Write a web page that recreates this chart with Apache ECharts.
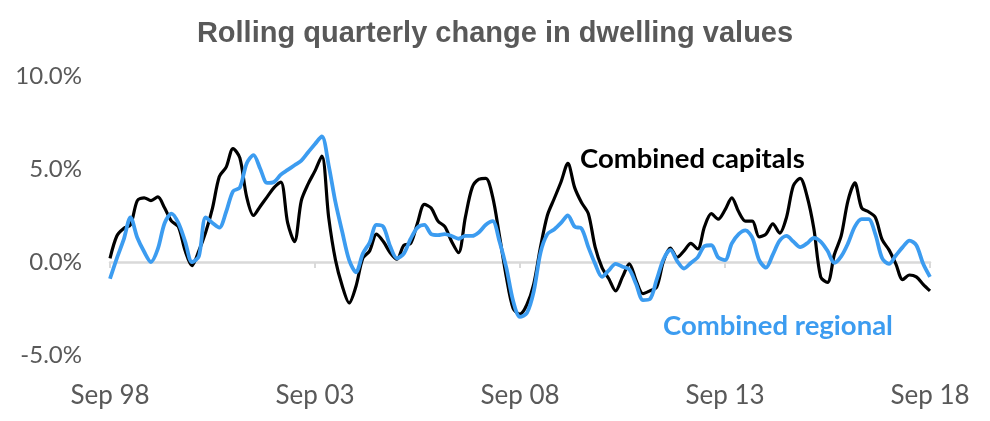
<!DOCTYPE html>
<html>
<head>
<meta charset="utf-8">
<script src="https://cdn.jsdelivr.net/npm/echarts@6/dist/echarts.min.js"></script>
<style>
html,body{margin:0;padding:0;background:#fff;}
#chart{width:990px;height:421px;}
</style>
</head>
<body>
<div id="chart"></div>
<script>
// Bimonthly samples from Sep 98 to Sep 18
const monthNames = ['Jan','Feb','Mar','Apr','May','Jun','Jul','Aug','Sep','Oct','Nov','Dec'];
const startYear = 1998, startMonth = 8, stepMonths = 2, nPoints = 121;
const categories = [];
for (let k = 0; k < nPoints; k++) {
  const m = startMonth + stepMonths * k;
  const y = startYear + Math.floor(m / 12);
  categories.push(monthNames[m % 12] + ' ' + String(y % 100).padStart(2, '0'));
}

const capitals = [
  0.2, 1.4, 1.8, 2.0, 3.3, 3.45, 3.3, 3.5, 2.9, 2.2,
  1.9, 0.6, -0.2, 0.6, 1.6, 2.9, 4.6, 5.1, 6.1, 5.6,
  3.5, 2.5, 3.0, 3.5, 4.0, 4.3, 2.1, 1.1, 3.3, 4.2,
  4.9, 5.7, 2.4, 0.1, -1.3, -2.2, -1.3, 0.2, 0.6, 1.5,
  1.1, 0.5, 0.15, 0.9, 1.0, 2.1, 3.1, 2.9, 2.2, 1.9,
  1.1, 0.5, 2.4, 4.0, 4.45, 4.5, 3.5, 1.4, -0.8, -2.5,
  -2.8, -2.3, -1.2, 0.8, 2.5, 3.4, 4.3, 5.3, 4.0, 3.2,
  2.6, 0.8, -0.3, -0.9, -1.55, -0.8, -0.1, -1.0, -1.7, -1.55,
  -1.35, 0.05, 0.75, 0.25, 0.6, 1.0, 0.7, 1.9, 2.6, 2.3,
  2.8, 3.45, 2.7, 2.2, 2.2, 1.35, 1.5, 2.05, 1.55, 2.4,
  4.1, 4.5, 3.55, 1.8, -0.8, -1.1, 0.4, 1.4, 3.3, 4.25,
  2.9, 2.7, 2.4, 1.2, 0.65, -0.1, -0.95, -0.7, -0.8, -1.2, -1.55
];

const regional = [
  -0.9, 0.2, 1.2, 2.4, 1.3, 0.55, 0.0, 0.7, 2.1, 2.6,
  2.1, 1.1, 0.0, 0.3, 2.4, 2.1, 1.85, 2.7, 3.8, 4.0,
  5.3, 5.75, 5.0, 4.25, 4.3, 4.7, 4.95, 5.2, 5.45, 5.9,
  6.35, 6.75, 5.2, 3.2, 1.6, 0.1, -0.55, 0.45, 1.05, 2.0,
  1.9, 0.85, 0.2, 0.45, 1.25, 1.85, 2.0, 1.5, 1.45, 1.5,
  1.4, 1.25, 1.4, 1.4, 1.6, 2.0, 2.2, 1.1, -0.3, -2.1,
  -2.95, -2.75, -1.6, 0.5, 1.5, 1.75, 2.1, 2.5, 1.9, 1.8,
  0.8, -0.1, -0.8, -0.45, -0.1, -0.25, -0.4, -1.2, -2.05, -2.0,
  -0.95, 0.15, 0.65, 0.05, -0.35, -0.05, 0.25, 0.85, 0.9, 0.25,
  0.1, 1.0, 1.5, 1.7, 1.3, 0.1, -0.3, 0.4, 1.15, 1.4,
  1.1, 0.8, 1.0, 1.3, 1.1, 0.6, -0.05, 0.3, 1.0, 1.9,
  2.3, 2.3, 1.5, 0.2, -0.1, 0.35, 0.8, 1.15, 0.9, -0.1, -0.8
];

const yTicks = { min: -5, max: 10, interval: 5 };
const labelEvery = 30; // Sep every 5 years

const chart = echarts.init(document.getElementById('chart'), null, { renderer: 'canvas' });
const labelFont = 'Lato, "Open Sans", sans-serif';

chart.setOption({
  animation: false,
  backgroundColor: '#ffffff',
  title: {
    text: 'Rolling quarterly change in dwelling values',
    left: 'center',
    top: 14,
    textStyle: {
      fontFamily: '"Liberation Sans", Arial, sans-serif',
      fontWeight: 'bold',
      fontSize: 29,
      color: '#595959'
    }
  },
  grid: { left: 110, right: 60, top: 76, bottom: 66, containLabel: false },
  xAxis: [
    {
      type: 'category',
      data: categories,
      boundaryGap: false,
      position: 'bottom',
      axisLine: { show: false, onZero: false },
      axisTick: { show: false },
      axisLabel: {
        interval: labelEvery - 1,
        margin: 28,
        fontFamily: labelFont,
        fontSize: 26,
        color: '#595959'
      },
      splitLine: { show: false }
    },
    {
      type: 'category',
      data: categories,
      boundaryGap: false,
      position: 'bottom',
      axisLine: { show: true, onZero: true, lineStyle: { color: '#d9d9d9', width: 2.5 } },
      axisTick: { show: true, interval: labelEvery - 1, length: 6, lineStyle: { color: '#d9d9d9', width: 2 } },
      axisLabel: { show: false },
      splitLine: { show: false }
    }
  ],
  yAxis: {
    type: 'value',
    min: yTicks.min,
    max: yTicks.max,
    interval: yTicks.interval,
    axisLine: { show: false },
    axisTick: { show: false },
    splitLine: { show: false },
    axisLabel: {
      margin: 28,
      fontFamily: labelFont,
      fontSize: 24,
      color: '#595959',
      formatter: v => v.toFixed(1) + '%'
    }
  },
  series: [
    {
      name: 'Combined capitals',
      type: 'line',
      data: capitals,
      xAxisIndex: 0,
      showSymbol: false,
      smooth: 0.3,
      lineStyle: { color: '#000000', width: 3.2 },
      z: 3
    },
    {
      name: 'Combined regional',
      type: 'line',
      data: regional,
      xAxisIndex: 0,
      showSymbol: false,
      smooth: 0.3,
      lineStyle: { color: '#3c9cf0', width: 3.8 },
      z: 4
    }
  ],
  graphic: [
    {
      type: 'text',
      left: 580,
      top: 145,
      style: {
        text: 'Combined capitals',
        fontFamily: labelFont,
        fontWeight: 'bold',
        fontSize: 27.5,
        fill: '#000000'
      }
    },
    {
      type: 'text',
      left: 663,
      top: 312,
      style: {
        text: 'Combined regional',
        fontFamily: labelFont,
        fontWeight: 'bold',
        fontSize: 27.5,
        fill: '#3c9cf0'
      }
    }
  ]
});
</script>
</body>
</html>
